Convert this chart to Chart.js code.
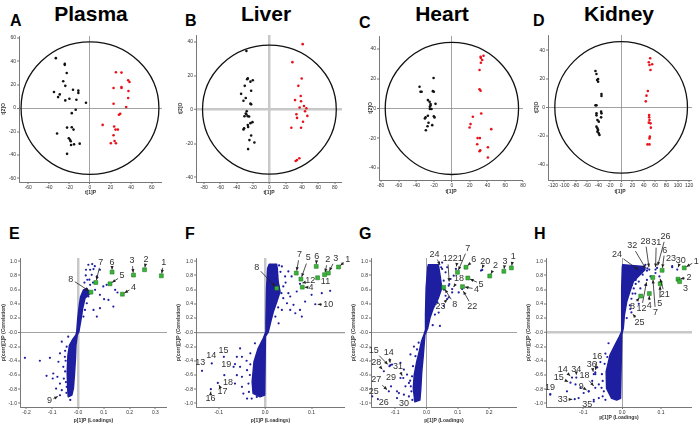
<!DOCTYPE html>
<html>
<head>
<meta charset="utf-8">
<script src="https://cdn.jsdelivr.net/npm/chart.js@4.4.1/dist/chart.umd.min.js"></script>
<style>
  body { margin: 0; background: #fff; width: 700px; height: 433px; position: relative; overflow: hidden;
         font-family: "Liberation Sans", Arial, sans-serif; }
  canvas { position: absolute; left: 0; top: 0; }
  .ttl { position: absolute; font-weight: bold; font-size: 21px; line-height: 1; transform: translateX(-50%); white-space: nowrap; }
  .let { position: absolute; font-weight: bold; font-size: 16px; line-height: 1; }
</style>
</head>
<body>
<div class="ttl" style="left:91px;top:3px">Plasma</div>
<div class="ttl" style="left:266px;top:3px">Liver</div>
<div class="ttl" style="left:442px;top:3px">Heart</div>
<div class="ttl" style="left:619px;top:3px">Kidney</div>
<div class="let" style="left:10px;top:13px">A</div>
<div class="let" style="left:185px;top:13px">B</div>
<div class="let" style="left:359px;top:15px">C</div>
<div class="let" style="left:533px;top:13px">D</div>
<div class="let" style="left:9px;top:226px">E</div>
<div class="let" style="left:185px;top:226px">F</div>
<div class="let" style="left:359px;top:226px">G</div>
<div class="let" style="left:534px;top:226px">H</div>
<canvas id="cA" width="700" height="433"></canvas>
<canvas id="cB" width="700" height="433"></canvas>
<canvas id="cC" width="700" height="433"></canvas>
<canvas id="cD" width="700" height="433"></canvas>
<canvas id="cE" width="700" height="433"></canvas>
<canvas id="cF" width="700" height="433"></canvas>
<canvas id="cG" width="700" height="433"></canvas>
<canvas id="cH" width="700" height="433"></canvas>
<script>
// ---------- score plots: t[1]P vs t[2]O ----------
const plasmaBlack = [[-33.2,42.6],[-24.5,37.7],[-24.5,36.9],[-22.6,30],[-26,22.9],[-24,19],[-35,13.7],[-29.4,11.7],[-31,9.4],[-16.5,15.7],[-11.3,14.9],[-11.3,12.9],[-20,8],[-24,6.6],[-13.2,7.1],[-3.9,4.6],[-13.9,-1.4],[-17.7,-4.3],[-22.3,-16.6],[-17.7,-16.3],[-16,-18.3],[-32,-21.7],[-20.6,-25.7],[-19.4,-27],[-18.7,-28.3],[-18.4,-31.4],[-15.5,-30.9],[-10,-30.3],[-22.3,-39]];
const plasmaRed = [[25.2,30.6],[30.6,30.3],[37.1,23.7],[38.4,22.3],[22.9,17.1],[30.6,18],[30.6,17.1],[37.4,14.6],[37.1,8.6],[22.9,3.7],[35.2,0.9],[29.4,-4.9],[28.1,-5.7],[12.3,-14.3],[23.5,-15.7],[24.8,-18.3],[27.1,-18.3],[22.9,-23.1],[23.9,-28],[25.2,-30],[20.3,-30]];
const liverBlack = [[-28.2,34.6],[-26.5,18.4],[-27.3,17.9],[-20.4,17.3],[-23.3,16.5],[-30.2,14],[-22.4,11.1],[-34.7,9.3],[-29,6.8],[-31.8,5.2],[-23.3,3.5],[-22.4,3.1],[-27.8,-1],[-29,-2.3],[-28.2,-2.9],[-26.5,-3.9],[-24.9,-4.1],[-30.6,-3.9],[-20.8,-7.4],[-23.3,-8],[-31,-11],[-31.8,-11.7],[-26.5,-9.1],[-26.1,-10.3],[-22.4,-15.3],[-18.4,-19.4],[-24.5,-18],[-26.1,-23.3]];
const liverRed = [[40.8,38.6],[28.2,28],[39.6,18.3],[35.5,14],[38.4,8],[31.4,5.6],[38.8,4.9],[42.4,2.1],[37.1,1.2],[45.3,0.8],[43.7,-1],[33.1,-2.7],[46.5,-3.7],[33.9,-4.9],[41.2,-7.2],[26.9,-10.7],[38.8,-10.7],[36.7,-28.7],[33.9,-29.7],[32.2,-30.3]];
const heartBlack = [[-20.6,20.4],[-36.4,14.6],[-35.3,11.2],[-34.1,11.2],[-21.4,11.6],[-20.3,11.2],[-27,5.6],[-18.4,3.1],[-25.1,4.5],[-24,2.9],[-24,2],[-24.8,1.1],[-24.8,-0.4],[-22.9,-0.4],[-20.3,-5.2],[-19.5,-6],[-27,-4.9],[-29.6,-6],[-30.4,-6.7],[-26.3,-9.6],[-22.1,-11.2],[-27.4,-11.9],[-29.3,-14.6]];
const heartRed = [[35.6,35.4],[32.3,34.7],[32.6,33.8],[34.1,32.5],[32.6,30.7],[31.1,25.8],[31.1,12.8],[32.3,11.9],[33,-3.4],[23.6,-5.6],[21,-10.5],[19.9,-12.8],[44.3,-13.9],[28.9,-19.9],[31.5,-19.9],[28.5,-24],[31.9,-28],[31.1,-28.7],[40.5,-26],[40.5,-32.9]];
const kidneyBlack = [[-45.3,25.4],[-43.5,23.3],[-40.6,19.8],[-40.6,17.9],[-42.4,19.1],[-34.7,9.3],[-34.7,7.9],[-45.3,1.4],[-43.5,1.4],[-35.3,-3],[-34.7,-4.2],[-43.5,-4.2],[-43.5,-5.6],[-35.3,-7],[-41.8,-8.9],[-39.4,-10],[-43.5,-13.5],[-41.8,-14.7],[-40.6,-15.9],[-41.8,-17],[-39.4,-18.2],[-38.2,-19.3]];
const kidneyRed = [[51.2,34.3],[48.8,31.5],[54.7,30.1],[50,29.6],[51.8,26.1],[47.1,11.4],[44.7,8.2],[43.5,4.2],[49.4,-5.4],[49.4,-7],[50,-8.9],[48.8,-10.7],[51.8,-11.2],[52.4,-14.2],[50.6,-20.5],[50,-21.7],[46.5,-25.9],[50,-25.9]];
// Hotelling ellipse radii [t1, t2]
const plasmaEllipse = [67, 56.5];
const liverEllipse = [82, 38];
const heartEllipse = [75, 44.3];
const kidneyEllipse = [117, 46];

// ---------- S-plots: p[1]P vs p(corr)[1]P ----------
// outline of the densest part of each cloud (too many variables to list one by one)
const eDense = [[-0.005,0.008],[-0.001,0.197],[0.005,0.384],[0.010,0.501],[0.021,0.595],[0.034,0.619],[0.047,0.548],[0.027,0.478],[0.018,0.337],[0.010,0.149],[0.003,0.008],[-0.003,-0.038],[-0.008,-0.179],[-0.010,-0.366],[-0.014,-0.601],[-0.018,-0.788],[-0.024,-0.882],[-0.038,-0.906],[-0.040,-0.788],[-0.042,-0.554],[-0.039,-0.319],[-0.033,-0.179],[-0.022,-0.108],[-0.008,-0.038]];
const ePoints = [[-0.206,-0.358],[-0.148,-0.4],[-0.109,-0.358],[-0.122,-0.612],[-0.096,-0.579],[-0.098,-0.649],[-0.08,-0.626],[-0.07,-0.72],[-0.085,-0.791],[-0.063,-0.814],[-0.044,-0.767],[-0.028,-0.871],[-0.057,-0.485],[-0.07,-0.296],[-0.051,-0.344],[-0.063,-0.132],[-0.044,-0.202],[-0.076,-0.414],[-0.038,-0.061],[-0.07,-0.885],[-0.05,-0.55],[-0.048,-0.4],[-0.05,-0.26],[-0.047,-0.7],[-0.045,-0.85],[-0.03,-0.95],[-0.055,-0.65],
  [0.031,0.88],[0.047,0.88],[0.06,0.889],[0.053,0.809],[0.036,0.739],[0.073,0.786],[0.085,0.88],[0.047,0.668],[0.066,0.598],[0.085,0.527],[0.101,0.466],[0.118,0.456],[0.144,0.598],[0.153,0.56],[0.137,0.362],[0.073,0.221],[0.085,0.339],[0.06,0.315],[0.04,0.504],[0.027,0.315],[0.021,0.221],[0.111,0.668],[0.098,0.645],[0.034,0.409],[0.025,0.7],[0.03,0.8],[0.04,0.95],[0.055,0.96],[0.065,0.93],[0.044,0.74],[0.058,0.7],[0.015,0.45],[0.013,0.26]];
const eMarked = [[0.323,0.795],[0.258,0.88],[0.215,0.805],[0.172,0.536],[0.124,0.682],[0.132,0.847],[0.069,0.70],[0.05,0.565]];
const eNotes = [['1',0.323,0.795,0.332,0.984],['2',0.258,0.88,0.264,1.02],['3',0.215,0.805,0.209,1.007],['4',0.172,0.536,0.215,0.63],['5',0.124,0.682,0.171,0.795],['6',0.132,0.847,0.132,0.988],['7',0.069,0.70,0.088,0.984],['8',0.05,0.565,-0.028,0.748],['9',-0.07,-0.885,-0.111,-0.965]];

const fDense = [[0.0088,0.956],[0.0248,0.956],[0.026,0.90],[0.028,0.712],[0.032,0.571],[0.025,0.43],[0.0175,0.29],[0.0119,0.149],[0.0067,0.008],[0.0005,-0.06],[-0.001,-0.882],[-0.011,-0.906],[-0.026,-0.858],[-0.028,-0.695],[-0.024,-0.414],[-0.015,-0.225],[-0.004,-0.084],[0.0017,0.008],[0.0017,0.149],[0.003,0.619],[0.0054,0.90]];
const fPoints = [[0.036,0.927],[0.043,0.786],[0.039,0.645],[0.05,0.551],[0.047,0.409],[0.036,0.315],[0.054,0.315],[0.065,0.268],[0.075,0.315],[0.079,0.221],[0.086,0.433],[0.1,0.527],[0.122,0.551],[0.14,0.584],[0.057,0.786],[0.05,0.856],[0.029,0.645],[0.054,0.504],[0.068,0.574],[0.061,0.386],[0.039,0.48],[0.022,0.221],[0.029,0.127],[0.108,0.395],[0.075,0.682],[0.033,0.85],[0.03,0.94],[0.035,0.55],[0.028,0.35],[0.044,0.7],
  [-0.054,-0.226],[-0.061,-0.344],[-0.05,-0.344],[-0.068,-0.485],[-0.054,-0.485],[-0.061,-0.602],[-0.05,-0.626],[-0.065,-0.72],[-0.05,-0.767],[-0.047,-0.861],[-0.039,-0.932],[-0.029,-0.932],[-0.018,-0.908],[-0.039,-0.532],[-0.032,-0.296],[-0.022,-0.155],[-0.036,-0.72],[-0.035,-0.838],[-0.033,-0.6],[-0.032,-0.45],[-0.04,-0.4],
  [-0.136,-0.541],[-0.115,-0.438],[-0.089,-0.344],[-0.117,-0.8],[-0.102,-0.711],[-0.088,-0.602],[-0.065,-0.447]];
const fMarked = [[0.158,0.918],[0.128,0.81],[0.136,0.833],[0.08,0.635],[0.077,0.748],[0.11,0.927],[0.067,0.833],[0.025,0.62],[0.113,0.767]];
const fNotes = [['1',0.158,0.918,0.178,1.03],['2',0.128,0.81,0.135,1.02],['3',0.136,0.833,0.152,1.04],['4',0.08,0.635,0.099,0.63],['5',0.077,0.748,0.093,1.045],['6',0.11,0.927,0.111,1.06],['7',0.067,0.833,0.074,1.09],['8',0.025,0.62,-0.018,0.918],['10',0.108,0.395,0.136,0.386],['11',0.113,0.767,0.13,0.715],['12',0.075,0.682,0.097,0.725],['13',-0.136,-0.541,-0.14,-0.424],['14',-0.115,-0.438,-0.116,-0.33],['15',-0.089,-0.344,-0.09,-0.259],['16',-0.117,-0.8,-0.118,-0.932],['17',-0.102,-0.711,-0.092,-0.838],['18',-0.088,-0.602,-0.08,-0.711],['19',-0.065,-0.447,-0.084,-0.456]];

const gDense = [[0.004,0.905],[0.006,0.951],[0.038,0.951],[0.043,0.81],[0.049,0.623],[0.038,0.482],[0.022,0.341],[0.011,0.2],[0.004,0.059],[-0.005,-0.035],[-0.010,-0.317],[-0.015,-0.552],[-0.018,-0.787],[-0.021,-0.951],[-0.037,-0.975],[-0.042,-0.787],[-0.039,-0.599],[-0.031,-0.412],[-0.023,-0.271],[-0.016,-0.13],[-0.008,-0.035],[-0.003,0.035],[-0.003,0.247],[-0.001,0.623]];
const gPoints = [[0.05,0.892],[0.061,0.844],[0.066,0.915],[0.055,0.726],[0.071,0.656],[0.061,0.514],[0.066,0.467],[0.055,0.373],[0.039,0.278],[0.043,0.09],[0.077,0.75],[0.087,0.797],[0.035,0.42],[0.178,0.877],[0.103,0.561],[0.082,0.561],[0.073,0.679],[0.082,0.608],[0.174,0.868],[0.094,0.892],[0.114,0.608],[0.071,0.49],[0.047,0.915],[0.056,0.6],[0.05,0.98],[0.027,0.25],[0.02,0.1],
  [-0.11,-0.453],[-0.083,-0.429],[-0.072,-0.524],[-0.062,-0.594],[-0.083,-0.642],[-0.056,-0.712],[-0.088,-0.854],[-0.072,-0.877],[-0.056,-0.901],[-0.048,-0.83],[-0.046,-0.618],[-0.043,-0.476],[-0.035,-0.335],[-0.051,-0.311],[-0.025,-0.146],[-0.03,-0.241],[-0.05,-0.759],[-0.067,-0.759],[-0.045,-0.95],[-0.052,-0.68],[-0.094,-0.83],[-0.04,-0.2],
  [-0.115,-0.462],[-0.118,-0.476],[-0.136,-0.547],[-0.074,-0.642],[-0.12,-0.83],[-0.113,-0.76],[-0.173,-0.9],[-0.155,-0.939],[-0.094,-0.925]];
const gMarked = [[0.271,0.906],[0.202,0.792],[0.247,0.858],[0.115,0.642],[0.132,0.764],[0.126,0.915],[0.099,0.844],[0.055,0.632]];
const gNotes = [['1',0.271,0.906,0.277,1.066],['2',0.202,0.792,0.22,0.939],['3',0.247,0.858,0.251,1.0],['4',0.115,0.642,0.16,0.608],['5',0.132,0.764,0.174,0.679],['6',0.126,0.915,0.151,1.019],['7',0.099,0.844,0.132,1.184],['8',0.055,0.632,0.09,0.387],['12',0.073,0.679,0.068,1.033],['18',0.082,0.608,0.104,0.75],['20',0.174,0.868,0.188,1.0],['21',0.094,0.892,0.1,1.042],['22',0.114,0.608,0.146,0.358],['23',0.071,0.49,0.045,0.358],['24',0.047,0.915,0.026,1.1],['14',-0.115,-0.462,-0.12,-0.288],['15',-0.118,-0.476,-0.168,-0.25],['28',-0.136,-0.547,-0.16,-0.42],['31',-0.074,-0.642,-0.091,-0.486],['27',-0.12,-0.83,-0.16,-0.665],['29',-0.113,-0.76,-0.113,-0.642],['25',-0.173,-0.9,-0.168,-0.83],['26',-0.155,-0.939,-0.136,-0.986],['30',-0.094,-0.925,-0.072,-0.995]];

const hDense = [[0.0005,0.905],[0.0015,0.951],[0.055,0.927],[0.059,0.881],[0.046,0.81],[0.029,0.716],[0.020,0.575],[0.012,0.434],[0.006,0.247],[0.003,0.059],[-0.001,-0.035],[-0.004,-0.928],[-0.014,-0.951],[-0.027,-0.928],[-0.040,-0.787],[-0.041,-0.552],[-0.031,-0.317],[-0.018,-0.176],[-0.007,-0.059],[-0.001,0.011],[-0.001,0.623]];
const hPoints = [[-0.185,-0.867],[-0.142,-0.829],[-0.129,-0.636],[-0.12,-0.733],[-0.107,-0.781],[-0.099,-0.853],[-0.086,-0.829],[-0.077,-0.684],[-0.069,-0.588],[-0.06,-0.733],[-0.064,-0.492],[-0.056,-0.419],[-0.052,-0.588],[-0.047,-0.829],[-0.06,-0.925],[-0.073,-0.973],[-0.043,-0.949],[-0.043,-0.299],[-0.045,-0.443],[-0.05,-0.684],[-0.035,-0.154],[-0.038,-0.347],[-0.112,-0.925],[-0.05,-0.9],[-0.053,-0.78],
  [-0.133,-0.708],[-0.069,-0.564],[-0.069,-0.781],[-0.185,-0.877],[-0.122,-0.94],[-0.118,-0.636],[-0.073,-0.949],[-0.073,-0.588],[-0.086,-0.829],
  [0.065,0.9],[0.039,0.786],[0.035,0.737],[0.025,0.665],[0.03,0.617],[0.027,0.545],[0.024,0.472],[0.02,0.38],[0.021,0.328],[0.012,0.2],[0.043,0.713],[0.047,0.617],[0.06,0.665],[0.053,0.81],[0.073,0.786],[0.086,0.834],[0.129,0.916],[0.142,0.882],[0.034,0.545],[0.043,0.4],
  [0.064,0.737],[0.096,0.786],[0.129,0.93],[0.047,0.858],[0.024,0.28],[0.09,0.906],[0.07,0.882],[0.086,0.882],[0.064,0.867],[0.06,0.95],[0.035,0.68]];
const hMarked = [[0.16,0.906],[0.144,0.747],[0.148,0.713],[0.07,0.545],[0.098,0.684],[0.103,0.872],[0.079,0.771],[0.048,0.51]];
const hNotes = [['1',0.16,0.906,0.191,1.002],['2',0.144,0.747,0.172,0.771],['3',0.148,0.713,0.163,0.617],['4',0.07,0.545,0.07,0.376],['5',0.098,0.684,0.097,0.41],['6',0.103,0.872,0.11,1.157],['7',0.079,0.771,0.086,0.28],['8',0.048,0.51,0.027,0.366],['12',0.064,0.737,0.05,0.337],['21',0.096,0.786,0.11,0.53],['23',0.129,0.93,0.126,1.036],['24',0.047,0.858,-0.013,1.099],['25',0.024,0.28,0.045,0.135],['26',0.09,0.906,0.112,1.349],['28',0.07,0.882,0.06,1.282],['30',0.142,0.882,0.151,1.012],['31',0.086,0.882,0.088,1.267],['32',0.064,0.867,0.026,1.219],['14',-0.129,-0.636,-0.153,-0.516],['15',-0.133,-0.708,-0.163,-0.636],['16',-0.069,-0.564,-0.064,-0.337],['18',-0.069,-0.781,-0.097,-0.602],['19',-0.185,-0.877,-0.186,-0.781],['33',-0.122,-0.94,-0.153,-0.949],['34',-0.118,-0.636,-0.118,-0.516],['35',-0.073,-0.949,-0.09,-1.012],['36',-0.073,-0.588,-0.078,-0.458],['9',-0.086,-0.829,-0.105,-0.766]];

Chart.defaults.font.family = '"Liberation Sans", Arial, sans-serif';
const BLUE = '#1e1ea0';
const extras = {};

const marks = {
  id: 'marks',
  beforeDatasetsDraw(chart) {
    const ex = extras[chart.canvas.id];
    if (!ex || !ex.dense) return;
    const { ctx } = chart;
    const x = chart.scales.x, y = chart.scales.y;
    ctx.save();
    ctx.beginPath();
    ex.dense.forEach(([vx, vy], i) => {
      const px = x.getPixelForValue(vx), py = y.getPixelForValue(vy);
      if (i) ctx.lineTo(px, py); else ctx.moveTo(px, py);
    });
    ctx.closePath();
    ctx.fillStyle = BLUE;
    ctx.strokeStyle = BLUE;
    ctx.lineWidth = 1.5;
    ctx.lineJoin = 'round';
    ctx.fill();
    ctx.stroke();
    ctx.restore();
  },
  afterDatasetsDraw(chart) {
    const ex = extras[chart.canvas.id];
    if (!ex) return;
    const { ctx } = chart;
    const x = chart.scales.x, y = chart.scales.y;
    ctx.save();
    if (ex.ellipse) {
      const cx = x.getPixelForValue(0), cy = y.getPixelForValue(0);
      ctx.beginPath();
      ctx.ellipse(cx, cy, x.getPixelForValue(ex.ellipse[0]) - cx, cy - y.getPixelForValue(ex.ellipse[1]), 0, 0, Math.PI * 2);
      ctx.lineWidth = 1.3;
      ctx.strokeStyle = '#111';
      ctx.stroke();
    }
    ctx.font = '9px "Liberation Sans", Arial, sans-serif';
    ctx.textAlign = 'center';
    ctx.textBaseline = 'middle';
    (ex.notes || []).forEach(([t, px, py, lx, ly]) => {
      const P = [x.getPixelForValue(px), y.getPixelForValue(py)];
      const L = [x.getPixelForValue(lx), y.getPixelForValue(ly)];
      ctx.fillStyle = '#333';
      ctx.fillText(t, L[0], L[1]);
      const dx = P[0] - L[0], dy = P[1] - L[1], d = Math.hypot(dx, dy);
      if (d < 8) return;
      const ux = dx / d, uy = dy / d;
      const hw = ctx.measureText(t).width / 2 + 1.5;
      const s = Math.min(hw / Math.max(Math.abs(ux), 1e-6), 5.5 / Math.max(Math.abs(uy), 1e-6));
      if (s > d - 3) return;
      const sx = L[0] + ux * s, sy = L[1] + uy * s;
      const ex2 = P[0] - ux * 2.5, ey2 = P[1] - uy * 2.5;
      ctx.strokeStyle = '#222';
      ctx.lineWidth = 0.8;
      ctx.beginPath();
      ctx.moveTo(sx, sy);
      ctx.lineTo(ex2, ey2);
      ctx.stroke();
      ctx.fillStyle = '#222';
      ctx.beginPath();
      ctx.moveTo(ex2, ey2);
      ctx.lineTo(ex2 - ux * 3.5 - uy * 1.6, ey2 - uy * 3.5 + ux * 1.6);
      ctx.lineTo(ex2 - ux * 3.5 + uy * 1.6, ey2 - uy * 3.5 - ux * 1.6);
      ctx.closePath();
      ctx.fill();
    });
    ctx.restore();
  }
};

const isZero = v => Math.abs(v) < 1e-9;
function axis(min, max, step, fmt, title, zero, size, horiz) {
  return {
    type: 'linear', min, max,
    ticks: { stepSize: step, includeBounds: false, autoSkip: false, maxRotation: 0, padding: 1,
             font: { size: 5 }, color: '#333', callback: fmt },
    grid: {
      color: c => (c.tick && isZero(c.tick.value)) ? zero[0] : 'rgba(0,0,0,0)',
      lineWidth: c => (c.tick && isZero(c.tick.value)) ? zero[1] : 0,
      tickColor: '#555', tickWidth: 0.8, tickLength: 2
    },
    border: { display: true, color: '#555', width: 0.8 },
    title: { display: true, text: title, padding: 0, font: { size: 5, weight: 'bold' }, color: '#333' },
    afterFit: s => { if (horiz) s.height = size; else s.width = size; }
  };
}

function build(id, box, yTitleX, xTitleY, xs, ys, datasets, ex) {
  const [L, T, R, B] = box;
  const yW = L - yTitleX + 3, xH = xTitleY - B + 3;
  extras[id] = ex;
  new Chart(document.getElementById(id), {
    type: 'scatter',
    data: { datasets },
    options: {
      responsive: false, animation: false, events: [], devicePixelRatio: 1,
      layout: { padding: { left: L - yW, top: T, right: 700 - R, bottom: 433 - B - xH } },
      plugins: { legend: { display: false }, tooltip: { enabled: false } },
      scales: { x: axis(xs[0], xs[1], xs[2], xs[3], xs[4], xs[5], xH, true),
                y: axis(ys[0], ys[1], ys[2], ys[3], ys[4], ys[5], yW, false) }
    },
    plugins: [marks]
  });
}

const pts = a => a.map(([x, y]) => ({ x, y }));
const intFmt = v => String(Math.round(v));
const decFmt = zl => v => isZero(v) ? zl : v.toFixed(1);
const thin = ['#8a8a8a', 0.8], thick = ['#c8c8c8', 2.5];

function scorePanel(id, box, yTitleX, xTitleY, xr, yr, black, red, ell, zx, zy) {
  build(id, box, yTitleX, xTitleY,
    [xr[0], xr[1], 20, intFmt, 't[1]P', zx],
    [yr[0], yr[1], 20, intFmt, 't[2]O', zy],
    [
      { data: pts(red), pointRadius: 1.3, pointBackgroundColor: '#e8121a', pointBorderWidth: 0 },
      { data: pts(black), pointRadius: 1.3, pointBackgroundColor: '#111', pointBorderWidth: 0 }
    ], { ellipse: ell });
}

function sPanel(id, box, yTitleX, xTitleY, xr, xStep, xZeroLabel, dense, cloud, marked, notes, zx, zy) {
  const sets = [
    { data: pts(marked), pointStyle: 'rect', pointRadius: 2.8, pointBackgroundColor: '#36b536', pointBorderColor: '#1d6e1d', pointBorderWidth: 0.5 },
    { data: pts(cloud), pointRadius: 1.1, pointBackgroundColor: BLUE, pointBorderWidth: 0 }
  ];
  build(id, box, yTitleX, xTitleY,
    [xr[0], xr[1], xStep, decFmt(xZeroLabel), 'p[1]P (Loadings)', zx],
    [-1.05, 1.045, 0.2, decFmt('-0.0'), 'p(corr)[1]P (Correlation)', zy],
    sets, { notes, dense });
}

scorePanel('cA', [19, 36, 162, 182], 4, 193, [-69, 70], [-63, 61.5], plasmaBlack, plasmaRed, plasmaEllipse, thin, thin);
scorePanel('cB', [196, 35, 342, 182], 181, 193, [-90, 89], [-42.7, 44], liverBlack, liverRed, liverEllipse, thick, thick);
scorePanel('cC', [379, 36, 523, 180], 371, 192, [-82, 80], [-48, 48.6], heartBlack, heartRed, heartEllipse, thin, thin);
scorePanel('cD', [548, 35, 692, 180], 537, 192, [-129, 125], [-50.8, 50.6], kidneyBlack, kidneyRed, kidneyEllipse, thin, thin);

sPanel('cE', [20, 258, 167, 407], 4, 421, [-0.225, 0.345], 0.1, '-0.0', eDense, ePoints, eMarked, eNotes, thick, thin);
sPanel('cF', [196, 258, 345, 407], 179, 421, [-0.149, 0.172], 0.1, '0.0', fDense, fPoints, fMarked, fNotes, thick, ['#999', 1.2]);
sPanel('cG', [371, 258, 517, 407], 354, 421, [-0.177, 0.289], 0.1, '0.0', gDense, gPoints, gMarked, gNotes, thin, thin);
sPanel('cH', [546, 258, 692, 407], 529, 418, [-0.196, 0.18], 0.1, '0.0', hDense, hPoints, hMarked, hNotes, thin, thick);
</script>
</body>
</html>
